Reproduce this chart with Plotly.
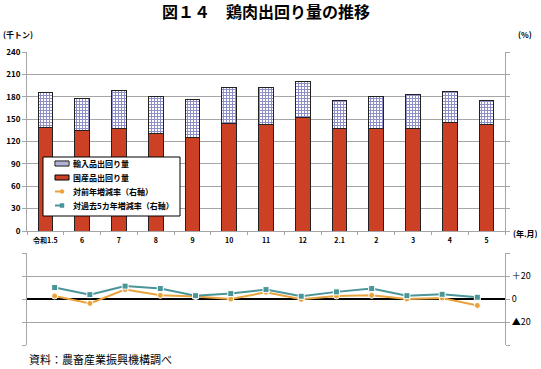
import plotly.graph_objects as go

categories = ["令和1.5", "6", "7", "8", "9", "10", "11", "12", "2.1", "2", "3", "4", "5"]
domestic = [139, 135, 138, 131, 126, 144, 143, 152, 138, 137, 138, 146, 143]
imports = [47, 43, 50, 49, 50, 49, 50, 49, 37, 43, 45, 41, 32]
yoy_rate = [2.6, -3.8, 8.2, 3.2, 2.1, 0.0, 5.9, -0.3, 2.6, 3.2, 0.0, 0.9, -5.6]
avg5_rate = [10.0, 3.8, 11.2, 9.1, 2.9, 4.7, 8.2, 2.4, 6.2, 9.1, 2.9, 4.1, 1.5]

legend_labels = ["輸入品出回り量", "国産品出回り量", "対前年増減率（右軸）", "対過去5カ年増減率（右軸）"]

FONT = "Noto Sans CJK JP"
GRID = "#a6a6a6"
RED = "#cc4125"
ORANGE = "#e8a33d"
TEAL = "#4a9598"
BLUE = "#1c1c90"

W, H = 541, 369
ML, MR, MT, MB = 27, 36, 52, 24
PW, PH = W - ML - MR, H - MT - MB


def px(x):
    return (x - ML) / PW


def py(y):
    return (H - MB - y) / PH


fig = go.Figure()
fig.add_trace(go.Bar(
    x=categories, y=domestic, name=legend_labels[1],
    marker=dict(color=RED, line=dict(color="#222222", width=1)),
    width=0.4, xaxis="x", yaxis="y",
))
fig.add_trace(go.Bar(
    x=categories, y=imports, name=legend_labels[0],
    marker=dict(color="white", line=dict(color="#222222", width=1),
                pattern=dict(shape="+", fgcolor=BLUE, bgcolor="white", size=3, solidity=0.55)),
    width=0.4, xaxis="x", yaxis="y",
))
fig.add_trace(go.Scatter(
    x=categories, y=yoy_rate, name=legend_labels[2], mode="lines+markers",
    line=dict(color=ORANGE, width=2),
    marker=dict(symbol="circle", size=6, color=ORANGE, line=dict(color="white", width=1)),
    xaxis="x2", yaxis="y2",
))
fig.add_trace(go.Scatter(
    x=categories, y=avg5_rate, name=legend_labels[3], mode="lines+markers",
    line=dict(color=TEAL, width=2),
    marker=dict(symbol="square", size=6, color=TEAL, line=dict(color="white", width=1)),
    xaxis="x2", yaxis="y2",
))

# manual legend (compact, like the original)
shapes = []
annotations = []
shapes.append(dict(type="rect", xref="paper", yref="paper", x0=px(43), x1=px(180), y0=py(216), y1=py(157),
                   fillcolor="white", line=dict(color="black", width=1), layer="above"))
rows = [163.5, 177.5, 191.5, 205.5]
sx0, sx1 = 55, 69
# imports swatch
shapes.append(dict(type="rect", xref="paper", yref="paper", x0=px(sx0), x1=px(sx1),
                   y0=py(rows[0] + 2.5), y1=py(rows[0] - 2.5), fillcolor="white",
                   line=dict(color="black", width=1), layer="above"))
for xv in range(sx0 + 2, sx1, 2):
    shapes.append(dict(type="line", xref="paper", yref="paper", x0=px(xv), x1=px(xv),
                       y0=py(rows[0] + 2), y1=py(rows[0] - 2), line=dict(color=BLUE, width=0.7), layer="above"))
# domestic swatch
shapes.append(dict(type="rect", xref="paper", yref="paper", x0=px(sx0), x1=px(sx1),
                   y0=py(rows[1] + 2.5), y1=py(rows[1] - 2.5), fillcolor=RED,
                   line=dict(color="black", width=1), layer="above"))
# line swatches
for r, col, sym in [(rows[2], ORANGE, "circle"), (rows[3], TEAL, "rect")]:
    shapes.append(dict(type="line", xref="paper", yref="paper", x0=px(sx0), x1=px(sx1),
                       y0=py(r), y1=py(r), line=dict(color=col, width=2, dash="dash"), layer="above"))
    shapes.append(dict(type=sym, xref="paper", yref="paper", x0=px(60), x1=px(64),
                       y0=py(r + 2), y1=py(r - 2), fillcolor=col, line=dict(color=col, width=0.5),
                       layer="above"))
for r, lab in zip(rows, legend_labels):
    annotations.append(dict(text=lab, xref="paper", yref="paper", x=px(71), y=py(r),
                            xanchor="left", yanchor="middle", showarrow=False,
                            font=dict(size=8, family=FONT, weight="bold")))

annotations += [
    dict(text="<b>図１４　鶏肉出回り量の推移</b>", x=0.5, y=1, xref="paper", yref="paper",
         xanchor="center", yanchor="middle", yshift=41, showarrow=False,
         font=dict(size=16, family=FONT)),
    dict(text="(千トン)", x=0, y=1, xref="paper", yref="paper", xanchor="left", yanchor="bottom",
         xshift=-26, yshift=10, showarrow=False, font=dict(size=8, family=FONT, weight="bold")),
    dict(text="(%)", x=1, y=1, xref="paper", yref="paper", xanchor="left", yanchor="bottom",
         xshift=11, yshift=10, showarrow=False, font=dict(size=8, family=FONT, weight="bold")),
    dict(text="(年.月)", x=1, y=py(231), xref="paper", yref="paper", xanchor="left", yanchor="middle",
         xshift=6, yshift=-2, showarrow=False, font=dict(size=8, family=FONT, weight="bold")),
    dict(text="資料：農畜産業振興機構調べ", x=0, y=0, xref="paper", yref="paper",
         xanchor="left", yanchor="top", yshift=-4, showarrow=False,
         font=dict(size=11, family=FONT)),
]

fig.update_layout(
    width=W, height=H,
    margin=dict(l=ML, r=MR, t=MT, b=MB, autoexpand=False),
    paper_bgcolor="white", plot_bgcolor="white",
    font=dict(family=FONT, size=8, color="black"),
    barmode="stack",
    showlegend=False,
    xaxis=dict(
        domain=[0, 1], anchor="y", type="category", automargin=False,
        showline=True, linecolor=GRID, linewidth=1,
        ticks="outside", tickson="boundaries", ticklen=3, tickcolor=GRID,
        ticklabelstandoff=3,
        tickfont=dict(size=7, family=FONT, weight="bold"), showgrid=False,
    ),
    yaxis=dict(
        domain=[py(231), 1], anchor="x", range=[0, 240], dtick=30, automargin=False,
        showgrid=True, gridcolor=GRID, gridwidth=1,
        showline=True, linecolor=GRID, mirror="ticks",
        ticks="outside", ticklen=4, tickcolor=GRID,
        tickfont=dict(size=8, family=FONT, weight="bold"), zeroline=False,
    ),
    xaxis2=dict(
        domain=[0, 1], anchor="y2", type="category", automargin=False,
        showticklabels=False, showgrid=False, showline=False, ticks="",
    ),
    yaxis2=dict(
        domain=[0, py(253)], anchor="x2", range=[-40, 40], side="right", automargin=False,
        tickvals=[-40, -20, 0, 20, 40], ticktext=["", "▲20", "0", "＋20", ""],
        showgrid=True, gridcolor=GRID, gridwidth=1,
        showline=True, linecolor=GRID, mirror="ticks",
        ticks="outside", ticklen=4, tickcolor=GRID,
        zeroline=True, zerolinecolor="black", zerolinewidth=2,
        tickfont=dict(size=9, family=FONT),
    ),
    shapes=shapes,
    annotations=annotations,
)

fig.write_html("out.html", config={"displayModeBar": False},
               post_script="document.body.style.margin='0';")
